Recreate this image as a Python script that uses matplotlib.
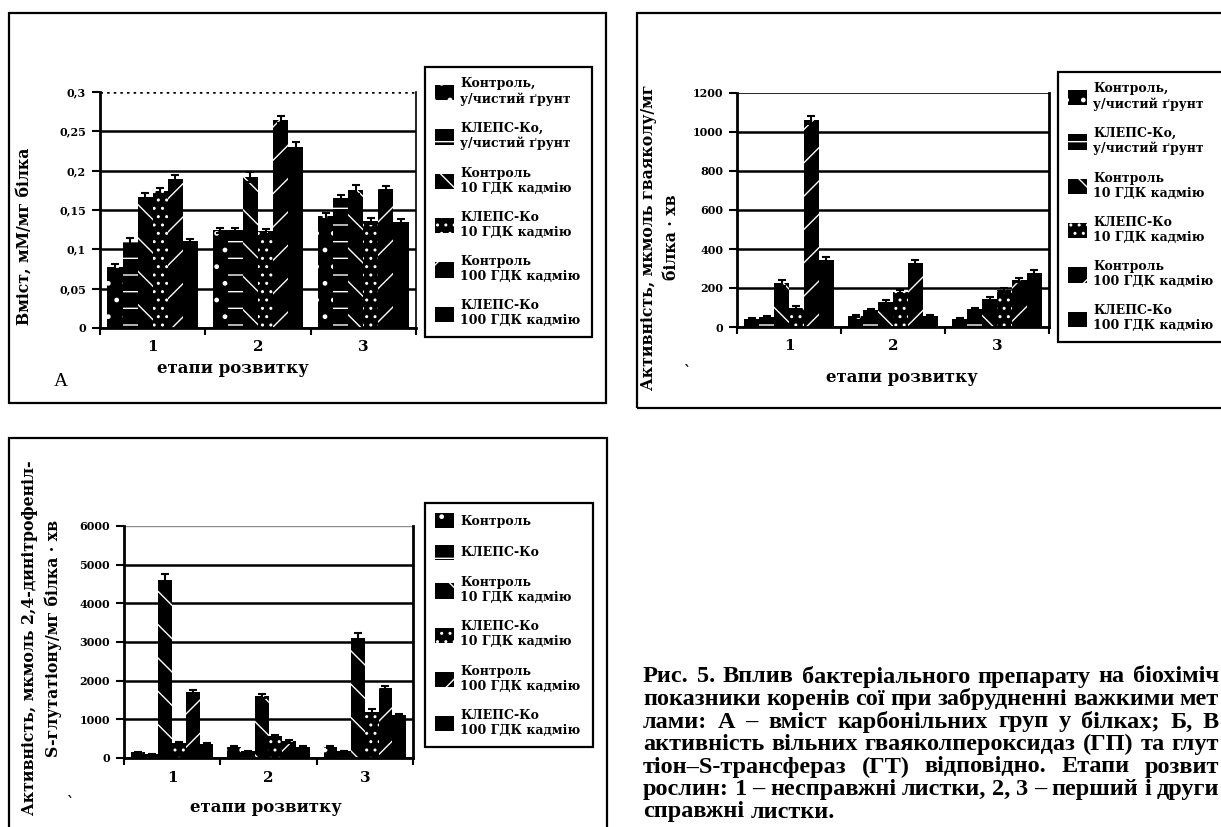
import numpy as np
import matplotlib
matplotlib.use("Agg")
import matplotlib.pyplot as plt
from matplotlib.patches import Rectangle
from matplotlib.ticker import FuncFormatter

plt.rcParams["font.family"] = ["DejaVu Serif"]
plt.rcParams["font.weight"] = "bold"
plt.rcParams["axes.labelweight"] = "bold"
plt.rcParams["hatch.linewidth"] = 1.0

W, H = 1221, 827

stages = ["1", "2", "3"]

labels_ab = ["Контроль,\nу/чистий ґрунт", "КЛЕПС-Ко,\nу/чистий ґрунт",
             "Контроль\n10 ГДК кадмію", "КЛЕПС-Ко\n10 ГДК кадмію",
             "Контроль\n100 ГДК кадмію", "КЛЕПС-Ко\n100 ГДК кадмію"]
labels_c = ["Контроль", "КЛЕПС-Ко",
            "Контроль\n10 ГДК кадмію", "КЛЕПС-Ко\n10 ГДК кадмію",
            "Контроль\n100 ГДК кадмію", "КЛЕПС-Ко\n100 ГДК кадмію"]

# rows = variants, columns = stages 1..3
carbonyl = [[0.078, 0.124, 0.142],
            [0.110, 0.124, 0.165],
            [0.167, 0.192, 0.176],
            [0.174, 0.123, 0.136],
            [0.190, 0.265, 0.177],
            [0.110, 0.230, 0.135]]
carbonyl_err = [[0.003, 0.003, 0.004],
                [0.004, 0.003, 0.004],
                [0.004, 0.006, 0.006],
                [0.004, 0.003, 0.004],
                [0.004, 0.004, 0.004],
                [0.003, 0.006, 0.004]]

peroxidase = [[40, 55, 40],
              [50, 85, 90],
              [225, 130, 145],
              [100, 180, 190],
              [1060, 330, 240],
              [345, 55, 275]]
peroxidase_err = [[5, 5, 5],
                  [5, 5, 5],
                  [15, 8, 8],
                  [10, 10, 10],
                  [20, 15, 10],
                  [15, 5, 15]]

transferase = [[150, 280, 280],
               [100, 170, 170],
               [4600, 1600, 3100],
               [380, 560, 1200],
               [1700, 430, 1800],
               [350, 280, 1100]]
transferase_err = [[15, 20, 20],
                   [10, 15, 15],
                   [150, 60, 120],
                   [30, 40, 60],
                   [60, 30, 50],
                   [30, 20, 50]]

hatches = [".", "-", "\\", "..", "/", ""]

# caption lines as far as the page shows them
caption = ["Рис. 5. Вплив бактеріального препарату на біохіміч",
           "показники коренів сої при забрудненні важкими мет",
           "лами: А – вміст карбонільних груп у білках; Б, В",
           "активність вільних гваяколпероксидаз (ГП) та глут",
           "тіон–S-трансфераз (ГТ) відповідно. Етапи розвит",
           "рослин: 1 – несправжні листки, 2, 3 – перший і други",
           "справжні листки."]


def px_box(left, top, right, bottom):
    return [left / W, 1 - bottom / H, (right - left) / W, (bottom - top) / H]


def comma(v, _):
    return ("%g" % v).replace(".", ",")


def bar_panel(ax, values, errors, top, step, labels, legend_px, ylabel, ylabel_x, ylabel_y,
              xlabel_x, xlabel_y):
    values = np.asarray(values)
    errors = np.asarray(errors)
    x = np.arange(1, len(stages) + 1)
    width = 0.143
    handles = []
    for i in range(len(values)):
        pos = x + (i - (len(values) - 1) / 2) * width
        b = ax.bar(pos, values[i], width, color="black", edgecolor="white",
                   linewidth=0, hatch=hatches[i], zorder=2)
        ax.errorbar(pos, values[i], yerr=errors[i], fmt="none", ecolor="black",
                    elinewidth=1.5, capsize=3, capthick=1.5, zorder=3)
        handles.append(b)

    ax.set_xlim(0.5, 3.5)
    ax.set_ylim(0, top)
    ax.set_yticks(np.arange(0, top + step / 2, step))
    ax.yaxis.set_major_formatter(FuncFormatter(comma))
    ax.set_xticks(x)
    ax.set_xticklabels(stages)
    ax.set_xticks([0.5, 1.5, 2.5, 3.5], minor=True)
    ax.tick_params(axis="y", length=6, width=1.5, labelsize=8, pad=4)
    ax.tick_params(axis="x", which="major", length=0, labelsize=11, pad=9)
    ax.tick_params(axis="x", which="minor", length=5, width=1.5)

    ax.set_axisbelow(True)
    ax.yaxis.grid(True, color="black", linewidth=1.8)
    ax.spines["top"].set_visible(False)
    for side in ("left", "bottom", "right"):
        ax.spines[side].set_linewidth(2)

    ax.set_xlabel("етапи розвитку", fontsize=12)
    ax.xaxis.set_label_coords(xlabel_x, xlabel_y)
    ax.set_ylabel(ylabel, fontsize=11.3, linespacing=1.45)
    ax.yaxis.set_label_coords(ylabel_x, ylabel_y)

    left, top_px, right, bottom = legend_px
    leg = ax.legend(handles, labels, loc="upper left",
                    bbox_to_anchor=(left / W, 1 - bottom / H, (right - left) / W, (bottom - top_px) / H),
                    bbox_transform=fig.transFigure, mode="expand", fontsize=9,
                    fancybox=False, framealpha=1, edgecolor="black",
                    handlelength=1.5, handleheight=1.5, handletextpad=0.5,
                    labelspacing=1.3, borderpad=0.8, borderaxespad=0)
    leg.get_frame().set_linewidth(1.6)
    return ax


fig = plt.figure(figsize=(W / 100, H / 100), dpi=100)

# panel frames
for left, top, right, bottom in [(9, 13, 606, 403), (637, 13, 1232, 408), (9, 438, 607, 840)]:
    x0, y0, w, h = px_box(left, top, right, bottom)
    fig.add_artist(Rectangle((x0, y0), w, h, transform=fig.transFigure,
                             fill=False, edgecolor="black", linewidth=1.6))

# A: carbonyl groups
ax_a = fig.add_axes(px_box(100, 92, 416, 328))
bar_panel(ax_a, carbonyl, carbonyl_err, 0.3, 0.05, labels_ab, (425, 67, 592, 347),
          "Вміст, мМ/мг білка", -0.212, 0.39, 0.42, -0.135)
ax_a.get_ygridlines()[-1].set_linestyle(":")
ax_a.spines["right"].set_linewidth(1.2)
fig.text(61 / W, 1 - 381 / H, "A", family="Liberation Serif", weight="normal",
         fontsize=14, ha="center", va="center")

# Б: guaiacol peroxidase
ax_b = fig.add_axes(px_box(737, 93, 1049, 327))
bar_panel(ax_b, peroxidase, peroxidase_err, 1200, 200, labels_ab, (1058, 72, 1300, 350),
          "Активність, мкмоль гваяколу/мг\nбілка · хв", -0.183, 0.385, 0.53, -0.18)
ax_b.get_ygridlines()[-1].set_linewidth(1.2)
fig.text(687 / W, 1 - 372 / H, "`", fontsize=10, ha="center", va="center")

# В: glutathione S-transferase
ax_c = fig.add_axes(px_box(124, 526, 413, 758))
bar_panel(ax_c, transferase, transferase_err, 6000, 1000, labels_c, (425, 503, 593, 783),
          "Активність, мкмоль 2,4-динітрофеніл-\nS-глутатіону/мг білка · хв", -0.215, 0.517,
          0.49, -0.177)
ax_c.get_ygridlines()[-1].set_color("0.55")
ax_c.get_ygridlines()[-1].set_linewidth(1.0)
fig.text(70 / W, 1 - 803 / H, "`", fontsize=10, ha="center", va="center")

# figure caption, justified between the left margin and the page edge
renderer = fig.canvas.get_renderer()
cap_left, cap_right = 643, 1219
for i, line in enumerate(caption):
    y = 1 - (677 + 22.5 * i) / H
    words = line.split()
    texts = [fig.text(0, y, word, family="Liberation Serif", weight="bold",
                      fontsize=17.5, ha="left", va="center") for word in words]
    widths = [t.get_window_extent(renderer).width for t in texts]
    if i < len(caption) - 1:
        gap = (cap_right - cap_left - sum(widths)) / (len(words) - 1)
    else:
        gap = 7
    xpos = cap_left
    for t, wd in zip(texts, widths):
        t.set_x(xpos / W)
        xpos += wd + gap

fig.savefig("out.png", dpi=100)
